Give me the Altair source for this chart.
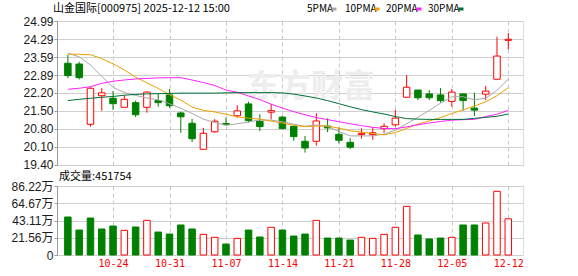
import json
import altair as alt
import pandas as pd

# ---------------- data ----------------
dates = ['10-20', '10-21', '10-22', '10-23', '10-24', '10-27', '10-28', '10-29', '10-30', '10-31',
         '11-03', '11-04', '11-05', '11-06', '11-07', '11-10', '11-11', '11-12', '11-13', '11-14',
         '11-17', '11-18', '11-19', '11-20', '11-21', '11-24', '11-25', '11-26', '11-27', '11-28',
         '12-01', '12-02', '12-03', '12-04', '12-05', '12-08', '12-09', '12-10', '12-11', '12-12']
open_p = [23.35, 23.32, 20.98, 22.09, 21.99, 21.64, 21.82, 21.64, 21.90, 22.12,
          21.42, 21.02, 20.01, 20.69, 21.01, 21.31, 21.77, 21.10, 21.45, 21.26,
          20.90, 20.32, 20.32, 20.91, 20.59, 20.28, 20.58, 20.58, 20.81, 20.96,
          22.03, 22.31, 22.16, 22.12, 21.87, 22.16, 21.61, 22.15, 22.73, 24.24]
high_p = [23.67, 23.41, 22.42, 22.38, 22.27, 22.11, 21.90, 22.26, 22.18, 22.35,
          21.47, 21.19, 20.84, 21.18, 21.25, 21.72, 21.86, 21.37, 21.77, 21.30,
          20.93, 20.53, 21.41, 21.21, 20.85, 20.44, 20.82, 20.87, 21.02, 21.54,
          22.89, 22.31, 22.31, 22.39, 22.35, 22.16, 22.21, 22.47, 24.38, 24.52]
low_p = [22.77, 22.72, 20.89, 21.51, 21.54, 21.64, 21.26, 21.43, 21.66, 21.62,
         20.65, 20.29, 20.01, 20.65, 20.96, 21.24, 21.04, 20.72, 21.17, 20.79,
         20.34, 19.88, 20.15, 20.68, 20.24, 20.02, 20.42, 20.38, 20.65, 20.89,
         22.03, 21.92, 21.92, 21.82, 21.66, 21.51, 21.30, 21.92, 22.73, 23.89]
close_p = [22.87, 22.79, 22.38, 22.20, 21.78, 21.95, 21.35, 22.23, 21.82, 21.70,
           21.27, 20.42, 20.63, 21.10, 20.97, 21.50, 21.12, 20.89, 21.51, 20.81,
           20.50, 20.06, 21.11, 20.84, 20.36, 20.09, 20.63, 20.65, 20.90, 21.22,
           22.42, 22.01, 22.01, 21.90, 22.23, 21.90, 21.53, 22.27, 23.63, 24.28]
# volume in 万 (10k lots)
vol_wan = [47.5, 31.2, 46.2, 32.5, 36.2, 30.8, 35.0, 43.3, 28.7, 26.2,
           37.5, 32.5, 25.8, 22.1, 13.7, 20.8, 31.2, 22.5, 34.6, 31.2,
           23.7, 26.2, 43.3, 21.2, 21.2, 18.7, 22.1, 20.8, 25.8, 34.6,
           60.8, 25.0, 20.0, 21.2, 22.1, 37.5, 37.5, 40.0, 79.6, 45.18]
ma5 = [23.74, 23.60, 23.28, 22.84, 22.42, 22.21, 22.10, 22.00, 21.93, 21.78,
       21.60, 21.40, 21.18, 21.05, 20.94, 21.00, 21.07, 21.15, 21.14, 21.08,
       20.98, 20.90, 20.95, 20.90, 20.70, 20.53, 20.53, 20.53, 20.60, 20.75,
       21.00, 21.25, 21.52, 21.80, 22.05, 22.05, 21.93, 21.99, 22.30, 22.73]
ma10 = [23.70, 23.70, 23.68, 23.53, 23.33, 23.09, 22.81, 22.59, 22.37, 22.13,
        21.92, 21.65, 21.52, 21.46, 21.37, 21.27, 21.22, 21.18, 21.10, 21.03,
        20.94, 20.89, 20.91, 20.91, 20.83, 20.73, 20.68, 20.62, 20.57, 20.66,
        20.82, 20.99, 21.11, 21.24, 21.40, 21.54, 21.69, 21.85, 22.09, 22.40]
ma20 = [22.34, 22.38, 22.44, 22.57, 22.65, 22.70, 22.74, 22.76, 22.78, 22.79,
        22.79, 22.70, 22.60, 22.49, 22.31, 22.22, 22.08, 21.94, 21.76, 21.61,
        21.47, 21.35, 21.24, 21.16, 21.08, 21.00, 20.93, 20.86, 20.82, 20.81,
        20.88, 20.96, 21.03, 21.09, 21.14, 21.16, 21.17, 21.28, 21.37, 21.52]
ma30 = [21.90, 21.95, 21.99, 22.03, 22.06, 22.11, 22.14, 22.16, 22.17, 22.18,
        22.19, 22.19, 22.19, 22.19, 22.20, 22.21, 22.21, 22.21, 22.21, 22.20,
        22.15, 22.08, 22.00, 21.90, 21.78, 21.66, 21.55, 21.46, 21.38, 21.28,
        21.20, 21.18, 21.17, 21.17, 21.17, 21.17, 21.21, 21.25, 21.29, 21.38]
friday_labels = ['10-24', '10-31', '11-07', '11-14', '11-21', '11-28', '12-05', '12-12']
price_ticks = [19.40, 20.10, 20.80, 21.50, 22.20, 22.89, 23.59, 24.29, 24.99]
vol_ticks = [0, 21.56, 43.11, 64.67, 86.22]
ma_names = ['5PMA', '10PMA', '20PMA', '30PMA']
ma_colors = ['#a8a8a8', '#f0a000', '#ff20ff', '#007038']
stock_title = '山金国际[000975] 2025-12-12 15:00'
vol_title = '成交量:451754'
watermark = '东方财富'

# ---------------- styling ----------------
RED = '#ff0000'
GREEN = '#008000'
CJK = 'Noto Sans CJK SC'
NUMF = 'Liberation Sans, Noto Sans CJK SC'
W, H1, H2 = 466, 144, 69
legend_text_x = [250, 288, 329, 371]
legend_mark_x = [277, 320, 362, 404]
EPS = 0.0005  # keeps the end ticks inside the range

n = len(dates)
df = pd.DataFrame({'i': list(range(n)), 'date': dates, 'open': open_p, 'high': high_p,
                   'low': low_p, 'close': close_p, 'vol': vol_wan})
prev_close = df['close'].shift(1)
df['vup'] = df['close'] > prev_close
df.loc[0, 'vup'] = bool(df.loc[0, 'close'] >= df.loc[0, 'open'])
df['vup'] = df['vup'].astype(bool)

ma_rows = []
for name, vals in zip(ma_names, [ma5, ma10, ma20, ma30]):
    for k, v in enumerate(vals):
        ma_rows.append({'i': k, 'series': name, 'value': v})
ma_df = pd.DataFrame(ma_rows)

tick_idx = [dates.index(d) for d in friday_labels]
label_expr = json.dumps(dates) + '[datum.value]'

x_scale = alt.Scale(domain=[-0.52, 39.86], nice=False, zero=False)
up_cond = alt.datum.close >= alt.datum.open

# ---------------- price panel ----------------
base = alt.Chart(df)
wm = alt.Chart(pd.DataFrame({'t': [watermark]})).mark_text(
    font=CJK, fontSize=32, fontWeight='bold', color='#ededed', align='center', baseline='middle'
).encode(x=alt.value(254), y=alt.value(66), text='t:N')

wick = base.mark_rule(strokeWidth=1).encode(
    x=alt.X('i:Q', scale=x_scale,
            axis=alt.Axis(values=tick_idx, tickCount=len(tick_idx), grid=True, gridDash=[4, 3],
                          gridColor='#c8c8c8', labels=False, ticks=False, domain=False, title=None)),
    y=alt.Y('low:Q', scale=alt.Scale(domain=[price_ticks[0] - EPS, price_ticks[-1] + EPS], nice=False, zero=False),
            axis=alt.Axis(values=price_ticks, tickCount=len(price_ticks), format='.2f', grid=True,
                          gridColor='#cfcfcf', tickColor='#999999', tickSize=3, domainColor='#999999',
                          labelFont=NUMF, labelFontSize=12, labelColor='#1a1a1a',
                          labelPadding=1, labelOverlap=False, labelBound=False, title=None)),
    y2='high:Q',
    color=alt.condition(up_cond, alt.value(RED), alt.value(GREEN)),
)
body = base.mark_bar(size=6.5, strokeWidth=1).encode(
    x='i:Q', y='open:Q', y2='close:Q',
    fill=alt.condition(up_cond, alt.value('#ffffff'), alt.value(GREEN)),
    stroke=alt.condition(up_cond, alt.value(RED), alt.value(GREEN)),
)
ma_layers = [
    alt.Chart(ma_df).transform_filter(alt.datum.series == name)
    .mark_line(color=c, strokeWidth=1).encode(x='i:Q', y='value:Q')
    for name, c in zip(ma_names, ma_colors)
]
title_txt = alt.Chart(pd.DataFrame({'t': [stock_title]})).mark_text(
    font=CJK, fontSize=11, color='#000000', align='left', baseline='middle'
).encode(x=alt.value(-4), y=alt.value(-12), text='t:N')
legend_layers = []
for name, c, tx, mx in zip(ma_names, ma_colors, legend_text_x, legend_mark_x):
    one = alt.Chart(pd.DataFrame({'t': [name]}))
    legend_layers.append(one.mark_text(font=CJK, fontSize=10, color='#000000', align='left',
                                       baseline='middle').encode(x=alt.value(tx), y=alt.value(-12), text='t:N'))
    legend_layers.append(one.mark_point(shape='M-1,-0.6H1V0.6H-1Z', filled=True, size=25, color=c,
                                        opacity=1).encode(x=alt.value(mx), y=alt.value(-12)))

price = alt.layer(wm, wick, body, *ma_layers, title_txt, *legend_layers).properties(width=W, height=H1)

# ---------------- volume panel ----------------
vbase = alt.Chart(df)
vol_up = alt.datum.vup
vbars = vbase.mark_bar(size=6.5, strokeWidth=1).encode(
    x=alt.X('i:Q', scale=x_scale,
            axis=alt.Axis(values=tick_idx, tickCount=len(tick_idx), labelExpr=label_expr, grid=True,
                          gridDash=[4, 3], gridColor='#c8c8c8', ticks=False, domain=False, labelColor=RED,
                          labelFont='DejaVu Sans Mono', labelFontSize=10, labelPadding=3,
                          labelFlush=False, labelOverlap=False, title=None)),
    y=alt.Y('vol:Q', scale=alt.Scale(domain=[0, vol_ticks[-1] + EPS], nice=False, zero=True),
            axis=alt.Axis(values=vol_ticks, tickCount=len(vol_ticks), grid=True, gridColor='#cfcfcf',
                          labelExpr="datum.value == 0 ? '0' : format(datum.value, '.2f') + '万'",
                          tickColor='#999999', tickSize=3, domainColor='#999999',
                          labelFont=NUMF, labelFontSize=12, labelColor='#1a1a1a',
                          labelPadding=1, labelOverlap=False, labelBound=False, title=None)),
    fill=alt.condition(vol_up, alt.value('#ffffff'), alt.value(GREEN)),
    stroke=alt.condition(vol_up, alt.value(RED), alt.value(GREEN)),
)
vtitle = alt.Chart(pd.DataFrame({'t': [vol_title]})).mark_text(
    font=CJK, fontSize=11, color='#000000', align='left', baseline='middle'
).encode(x=alt.value(2), y=alt.value(-9), text='t:N')
volume = alt.layer(vbars, vtitle).properties(width=W, height=H2)

chart = alt.vconcat(price, volume, spacing=21, bounds='flush').properties(
    padding={'left': 10, 'top': 2, 'right': 0, 'bottom': 0}
).configure_view(stroke='#999999', strokeWidth=1).configure_axis(
    labelOverlap=False, labelBound=False
).configure(background='#ffffff')

chart.save('out.html', embed_options={'renderer': 'svg', 'actions': False})
